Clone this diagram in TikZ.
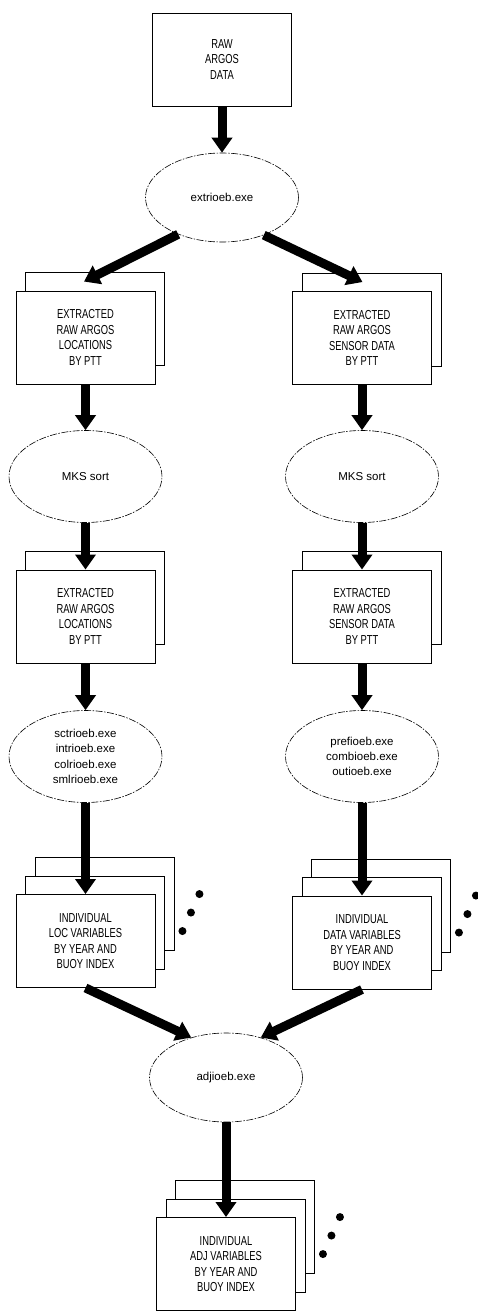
\documentclass[tikz,border=0pt]{standalone}
\usepackage{fontspec}
\setmainfont{Liberation Sans}
\newfontfamily\boxfont[FakeStretch=0.72]{Liberation Sans}
\usepackage{tikz}
\usetikzlibrary{arrows.meta,shapes.geometric,shadows,calc}

\begin{document}
\begin{tikzpicture}[x=1pt, y=-1pt,
    filebox/.style={draw, line width=0.9pt, fill=white, minimum width=139pt, minimum height=93pt,
      align=center, inner sep=2pt, font=\boxfont\fontsize{13}{15.5}\selectfont},
    twopage/.style={copy shadow={shadow xshift=9.5pt, shadow yshift=18.5pt}},
    threepage/.style={copy shadow={shadow xshift=19pt, shadow yshift=37pt},
      copy shadow={shadow xshift=9.5pt, shadow yshift=18.5pt}},
    prog/.style={draw, ellipse, line width=0.6pt, dash pattern=on 7pt off 1.5pt on 1.5pt off 1.5pt,
      minimum width=153pt, minimum height=92pt, align=center, inner sep=0pt,
      font=\fontsize{11.5}{15.3}\selectfont},
    flow/.style={line width=9pt, -{Triangle[width=20pt,length=15pt]}},
    bullet/.style={circle, fill, inner sep=0pt, minimum size=8pt}]
  \def\colL{85.5}
  \def\colR{362}
  \useasboundingbox (0,0) rectangle (477,1311);

  % top: raw data and extraction
  \node[filebox] (raw) at (222,59.5) {RAW\\ARGOS\\DATA};
  \node[prog, minimum height=89pt] (ext) at (222,197.5) {extrioeb.exe};

  % locations branch
  \node[filebox, twopage] (locA) at (\colL,337.5) {EXTRACTED\\RAW ARGOS\\LOCATIONS\\BY PTT};
  \node[prog] (sortA) at (\colL,476.5) {MKS sort};
  \node[filebox, twopage] (locB) at (\colL,616.5) {EXTRACTED\\RAW ARGOS\\LOCATIONS\\BY PTT};
  \node[prog] (locP) at (\colL,756.5) {sctrioeb.exe\\intrioeb.exe\\colrioeb.exe\\smlrioeb.exe};
  \node[filebox, threepage] (locC) at (\colL,941) {INDIVIDUAL\\LOC VARIABLES\\BY YEAR AND\\BUOY INDEX};

  % sensor branch
  \node[filebox, twopage] (senA) at (\colR,338) {EXTRACTED\\RAW ARGOS\\SENSOR DATA\\BY PTT};
  \node[prog] (sortB) at (\colR,476.5) {MKS sort};
  \node[filebox, twopage] (senB) at (\colR,616.5) {EXTRACTED\\RAW ARGOS\\SENSOR DATA\\BY PTT};
  \node[prog] (senP) at (\colR,756.5) {prefioeb.exe\\combioeb.exe\\outioeb.exe};
  \node[filebox, threepage] (senC) at (\colR,942.5) {INDIVIDUAL\\DATA VARIABLES\\BY YEAR AND\\BUOY INDEX};

  % merge
  \node[prog, minimum height=89pt] (adj) at (226,1077.5) {adjioeb.exe};
  \node[filebox, threepage] (adjC) at (226,1264) {INDIVIDUAL\\ADJ VARIABLES\\BY YEAR AND\\BUOY INDEX};

  % more pages
  \foreach \i in {0,1,2} {
    \node[bullet] (locD\i) at ($(locC.north east)+(44-8.5*\i,18.5*\i)$) {};
    \node[bullet] (senD\i) at ($(senC.north east)+(44-8.5*\i,18.5*\i)$) {};
    \node[bullet] (adjD\i) at ($(adjC.north east)+(44-8.5*\i,18.5*\i)$) {};
  }

  % arrows
  \coordinate (locAin) at ($(locA.north)+(-1.5,-9)$);
  \coordinate (senAin) at ($(senA.north)+(0.5,-9)$);
  \draw[flow] (raw) -- (ext);
  \draw[flow] (ext.220) -- (locAin);
  \draw[flow] (ext.-42) -- (senAin);
  \draw[flow] (locA) -- (sortA);
  \draw[flow] (sortA) -- (locB);
  \draw[flow] (locB) -- (locP);
  \draw[flow] (locP) -- (locC);
  \draw[flow] (senA) -- (sortB);
  \draw[flow] (sortB) -- (senB);
  \draw[flow] (senB) -- (senP);
  \draw[flow] (senP) -- (senC);
  \draw[flow] (locC.south) -- (adj.131);
  \draw[flow] (senC.south) -- (adj.49);
  \draw[flow] (adj) -- (adjC);
\end{tikzpicture}
\end{document}
